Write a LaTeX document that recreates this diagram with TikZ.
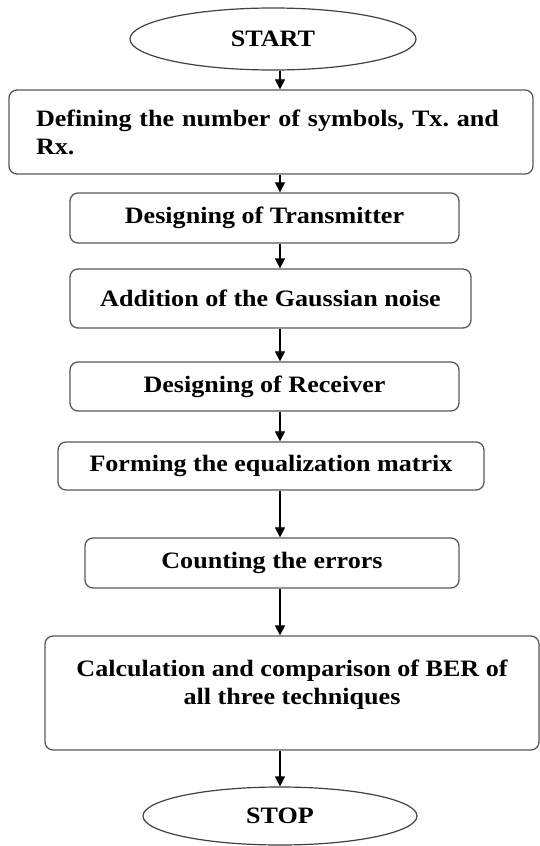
\documentclass[tikz,border=0pt]{standalone}
\usepackage{fontspec}
\setmainfont{Liberation Serif}[FakeStretch=1.11]
\usetikzlibrary{arrows.meta, shapes.geometric}

\begin{document}
\begin{tikzpicture}[x=1pt, y=-1pt,
  font=\bfseries\fontsize{23.5}{28}\selectfont,
  stepbox/.style={draw=black!65, line width=1.3pt, rounded corners=8pt, inner sep=0pt, align=center},
  terminal/.style={draw=black!75, line width=1.2pt, ellipse, inner sep=0pt},
  flow/.style={-{Triangle[width=10pt, length=10pt]}, line width=1.2pt}]

\useasboundingbox (0,0) rectangle (540,846);

% Start and stop
\node[terminal, minimum width=286pt, minimum height=62pt] (start) at (273,39) {START};
\node[terminal, minimum width=274pt, minimum height=58pt] (stop) at (280,816) {STOP};

% Steps
\node[stepbox, minimum width=524pt, minimum height=84pt, text width=470pt, align=left] (define) at (271,132)
  {Defining the number of symbols, Tx.\ and\\Rx.};
\node[stepbox, minimum width=389pt, minimum height=50pt] (trans) at (264.5,218) {Designing of Transmitter};
\node[stepbox, minimum width=401pt, minimum height=59pt] (noise) at (270.5,298.5) {Addition of the Gaussian noise};
\node[stepbox, minimum width=389pt, minimum height=49pt] (recv) at (264.5,386.5) {Designing of Receiver};
\node[stepbox, minimum width=426pt, minimum height=48pt] (equal) at (271,466) {Forming the equalization matrix};
\node[stepbox, minimum width=374pt, minimum height=50pt] (count) at (272,563) {Counting the errors};
\node[stepbox, minimum width=494pt, minimum height=114pt] (ber) at (292,693)
  {Calculation and comparison of BER of\\all three techniques\\[-6pt]\mbox{}};

% Arrows
\coordinate (axis) at (280,0);
\draw[flow] (start.south -| axis) -- (define.north -| axis);
\draw[flow] (define.south -| axis) -- (trans.north -| axis);
\draw[flow] (trans.south -| axis) -- (noise.north -| axis);
\draw[flow] (noise.south -| axis) -- (recv.north -| axis);
\draw[flow] (recv.south -| axis) -- (equal.north -| axis);
\draw[flow] (equal.south -| axis) -- (count.north -| axis);
\draw[flow] (count.south -| axis) -- (ber.north -| axis);
\draw[flow] (ber.south -| axis) -- (stop.north -| axis);

\end{tikzpicture}
\end{document}
